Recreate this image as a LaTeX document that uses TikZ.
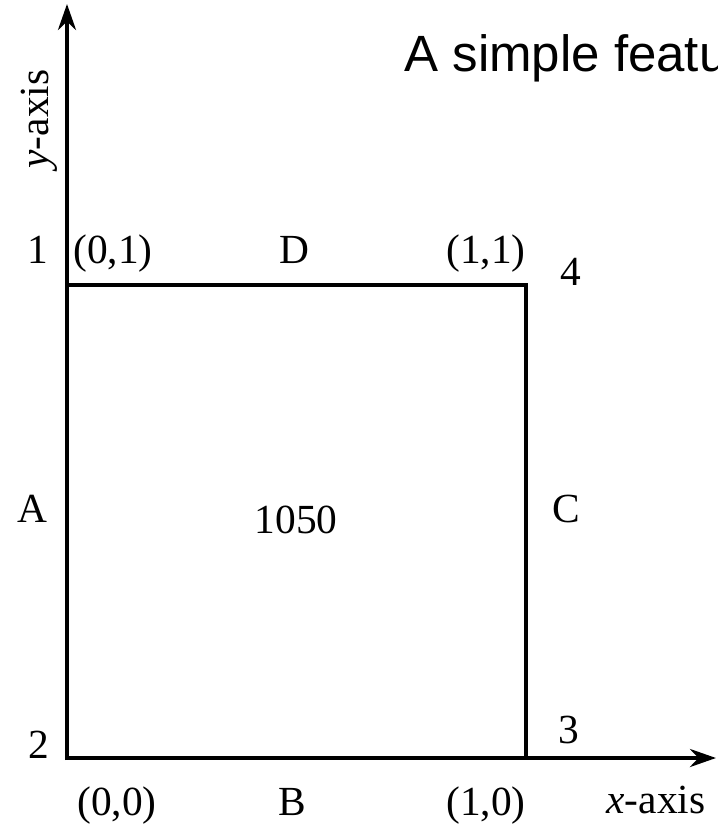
\documentclass[tikz,border=0pt]{standalone}
\usepackage{fontspec}
\setmainfont{Liberation Serif}
\newfontfamily\titlefont{Liberation Sans}
\usetikzlibrary{arrows.meta,positioning}

\begin{document}
\begin{tikzpicture}[
    x=0.5pt, y=-0.5pt,
    lbl/.style={anchor=base, inner sep=0pt, font=\fontsize{20.7}{24}\selectfont},
    edge/.style={line width=2pt, line join=miter},
    axis/.style={line width=2pt, -{Stealth[length=13pt, width=9pt]}}
]
    \useasboundingbox (0,0) rectangle (718,826);
    \clip (0,0) rectangle (718,826);

    % corners of the feature
    \coordinate (c00) at (67,758);
    \coordinate (c10) at (526,758);
    \coordinate (c11) at (526,285);
    \coordinate (c01) at (67,285);
    \coordinate (xend) at (716,758);
    \coordinate (yend) at (67,4);

    \draw[axis] (67,760) -- (yend);
    \draw[axis] (c00) -- (xend);
    \draw[edge] (c01) -- (c11) -- (c10);

    \node[anchor=base west, inner sep=0pt, font=\titlefont\fontsize{25.5}{30}\selectfont] (title) at (404,71) {A simple featu};

    \node[lbl] (n1) at (38,263) {1};
    \node[lbl] (p01) at (113,263) {(0,1)};
    \node[lbl] (eD) at (294,263) {D};
    \node[lbl] (p11) at (486,263) {(1,1)};
    \node[lbl] (n4) at (571,285) {4};
    \node[lbl] (eA) at (32,522) {A};
    \node[lbl] (face) at (296,533) {1050};
    \node[lbl] (eC) at (566,522) {C};
    \node[lbl] (n2) at (39,758) {2};
    \node[lbl] (n3) at (569,743) {3};
    \node[lbl] (p00) at (117,815) {(0,0)};
    \node[lbl] (eB) at (292,815) {B};
    \node[lbl] (p10) at (486,815) {(1,0)};
    \node[lbl] (xlab) at (656,813) {\textit{x}-axis};
    \node[lbl, anchor=center, rotate=90] (ylab) at (39,119) {\textit{y}-axis};
\end{tikzpicture}
\end{document}
